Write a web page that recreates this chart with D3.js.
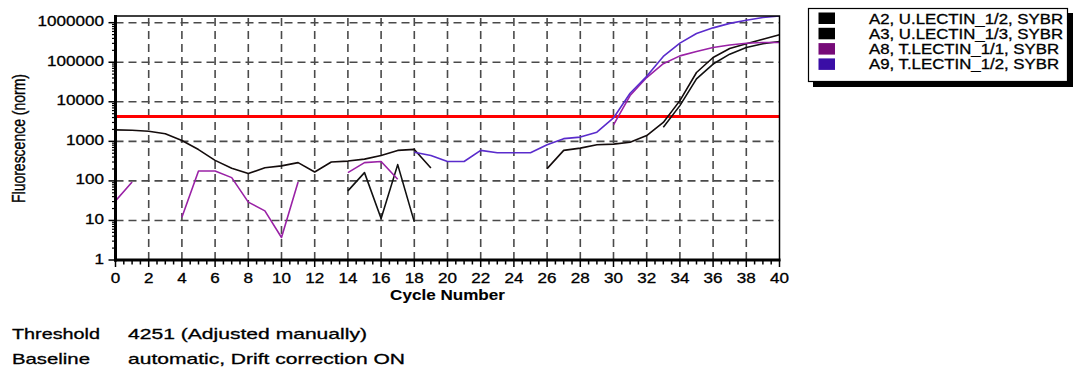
<!DOCTYPE html>
<html>
<head>
<meta charset="utf-8">
<script src="https://cdn.jsdelivr.net/npm/d3@7"></script>
<style>
  html, body { margin: 0; padding: 0; background: #fff; }
  svg { display: block; }
  text { font-family: "Liberation Sans", Arial, sans-serif; fill: #000; stroke: #000; stroke-width: 0.3px; }
</style>
</head>
<body>
<svg id="chart" width="1073" height="370"></svg>
<script>
// ---- data ----
const cycles = d3.range(0, 41);
const xTickLabels = d3.range(0, 41, 2);
const yTickLabels = [1, 10, 100, 1000, 10000, 100000, 1000000];
const seriesNames = ["A2, U.LECTIN_1/2, SYBR", "A3, U.LECTIN_1/3, SYBR", "A8, T.LECTIN_1/1, SYBR", "A9, T.LECTIN_1/2, SYBR"];
const threshold = 4251;

const a2 = [1950, 1900, 1800, 1550, 1050, 620, 330, 210, 153, 215,
            240, 290, 168, 300, 317, 355, 440, 590, 625, 212,
            null, null, null, null, null, null, 204, 590, 675, 820,
            850, 950, 1400, 3000, 10700, 55000, 132000, 223000, 295000, 380000, 495000];
const a3 = [null, null, null, null, null, null, null, null, null, null,
            null, null, null, null, 56, 162, 11.2, 258, 9.2, null,
            null, null, null, null, null, null, null, null, null, null,
            null, null, null, 2270, 8000, 38000, 90000, 160000, 236000, 295000, 335000];
const a8 = [31, 94, null, null, 12, 178, 178, 121, 29, 17.5,
            3.7, 94, null, null, 162, 290, 310, 110, null, null,
            null, null, null, null, null, null, null, null, null, null,
            2600, 14400, 41000, 92000, 145000, 187000, 236000, 272000, 303000, 316000, 316000];
const a9 = [null, null, null, null, null, null, null, null, null, null,
            null, null, null, null, null, null, null, null, 530, 440,
            310, 310, 590, 515, 515, 515, 820, 1170, 1280, 1700,
            3900, 16500, 44000, 140000, 305000, 534000, 740000, 960000, 1150000, 1350000, 1480000];

const seriesValues = [a2, a3, a8, a9];
const lineColors = ["#140c0c", "#111111", "#9a22a6", "#5a2ccc"];
const swatchColors = ["#000000", "#000000", "#760a78", "#3a0ea6"];

// ---- layout ----
const svg = d3.select("#chart");
const x = d3.scaleLinear().domain([0, 40]).range([115.5, 779.5]);
const y = d3.scaleLog().domain([1, 1.476e6]).range([260, 16]);
const pLeft = x(0), pRight = x(40), pTop = y.range()[1], pBottom = y(1);
const SX = 1.22; // horizontal text stretch of the reference

svg.append("defs").append("clipPath").attr("id", "plotclip")
  .append("rect").attr("x", pLeft).attr("y", pTop).attr("width", pRight - pLeft).attr("height", pBottom - pTop);

// grid
const grid = svg.append("g").attr("stroke", "#4a4a4a").attr("stroke-width", 1.6).attr("stroke-dasharray", "8,5");
grid.selectAll("line.v").data(xTickLabels.filter(d => d > 0 && d < 40)).join("line").attr("class", "v")
  .attr("x1", d => x(d)).attr("x2", d => x(d)).attr("y1", pBottom).attr("y2", pTop);
grid.selectAll("line.h").data(yTickLabels.filter(d => d > 1)).join("line").attr("class", "h")
  .attr("y1", d => y(d)).attr("y2", d => y(d)).attr("x1", pLeft).attr("x2", pRight);

// threshold
svg.append("line").attr("x1", pLeft).attr("x2", pRight)
  .attr("y1", y(threshold)).attr("y2", y(threshold))
  .attr("stroke", "#ff0000").attr("stroke-width", 3);

// curves
const line = d3.line().defined(d => d != null).x((d, i) => x(cycles[i])).y(d => y(d));
const curves = svg.append("g").attr("clip-path", "url(#plotclip)");
seriesValues.forEach((vals, k) => {
  curves.append("path").attr("d", line(vals)).attr("fill", "none")
    .attr("stroke", lineColors[k]).attr("stroke-width", 1.6).attr("stroke-linejoin", "round");
});

// frame
svg.append("rect").attr("x", pLeft).attr("y", pTop).attr("width", pRight - pLeft).attr("height", pBottom - pTop)
  .attr("fill", "none").attr("stroke", "#000").attr("stroke-width", 1.5);
svg.append("line").attr("x1", pLeft).attr("x2", pLeft).attr("y1", pTop - 1).attr("y2", pBottom + 1.5)
  .attr("stroke", "#000").attr("stroke-width", 3);
svg.append("line").attr("x1", pLeft - 1.5).attr("x2", pRight + 1).attr("y1", pBottom).attr("y2", pBottom)
  .attr("stroke", "#000").attr("stroke-width", 3);

// x ticks
const xMinor = d3.range(0, 40.01, 0.5);
svg.append("g").selectAll("line").data(xMinor).join("line")
  .attr("x1", d => x(d)).attr("x2", d => x(d))
  .attr("y1", pBottom).attr("y2", d => pBottom + (d % 2 === 0 ? 7 : 4.5))
  .attr("stroke", "#000").attr("stroke-width", 1.5);
svg.append("g").selectAll("text").data(xTickLabels).join("text")
  .attr("transform", d => `translate(${x(d)},283) scale(${SX},1)`)
  .attr("text-anchor", "middle").attr("font-size", 14).text(d => d);

// y ticks
const yMinor = [];
for (let e = 0; e < 6; e++) for (let m = 2; m <= 9; m++) yMinor.push(m * Math.pow(10, e));
svg.append("g").selectAll("line").data(yMinor.filter(v => v <= y.domain()[1])).join("line")
  .attr("x1", pLeft - 3.5).attr("x2", pLeft).attr("y1", d => y(d)).attr("y2", d => y(d))
  .attr("stroke", "#000").attr("stroke-width", 1.2);
svg.append("g").selectAll("line").data(yTickLabels).join("line")
  .attr("x1", pLeft - 7).attr("x2", pLeft).attr("y1", d => y(d)).attr("y2", d => y(d))
  .attr("stroke", "#000").attr("stroke-width", 1.5);
svg.append("g").selectAll("text").data(yTickLabels).join("text")
  .attr("transform", d => `translate(104,${y(d) + 3.5}) scale(${SX},1)`)
  .attr("text-anchor", "end").attr("font-size", 14).text(d => String(d));

// axis titles
svg.append("text").attr("transform", `translate(${(pLeft + pRight) / 2},300) scale(${SX},1)`)
  .attr("text-anchor", "middle").attr("font-size", 14).attr("font-weight", "bold").style("stroke-width", "0.1px").text("Cycle Number");
svg.append("text").attr("transform", `translate(24.5,138.5) scale(1.3,1) rotate(-90)`)
  .attr("text-anchor", "middle").attr("font-size", 14).text("Fluorescence (norm)");

// legend
const lg = svg.append("g");
lg.append("rect").attr("x", 813).attr("y", 13).attr("width", 260).attr("height", 74).attr("fill", "#000");
lg.append("rect").attr("x", 808.5).attr("y", 8.5).attr("width", 259).attr("height", 73)
  .attr("fill", "#fff").attr("stroke", "#000").attr("stroke-width", 1.2);
seriesNames.forEach((name, i) => {
  lg.append("rect").attr("x", 818.5).attr("y", 12.5 + 15.3 * i).attr("width", 16.5).attr("height", 11.5)
    .attr("fill", swatchColors[i]);
  lg.append("text").attr("transform", `translate(869,${23.5 + 15.3 * i}) scale(1.2,1)`)
    .attr("font-size", 14).text(name);
});

// footer text
const footer = [
  {t: "Threshold", x: 12, y: 339, w: 88},
  {t: "4251 (Adjusted manually)", x: 128, y: 339, w: 239},
  {t: "Baseline", x: 12, y: 364, w: 78},
  {t: "automatic, Drift correction ON", x: 128, y: 364, w: 277}
];
svg.append("g").selectAll("text").data(footer).join("text")
  .attr("x", d => d.x).attr("y", d => d.y).attr("font-size", 15)
  .attr("textLength", d => d.w).attr("lengthAdjust", "spacingAndGlyphs").text(d => d.t);
</script>
</body>
</html>
